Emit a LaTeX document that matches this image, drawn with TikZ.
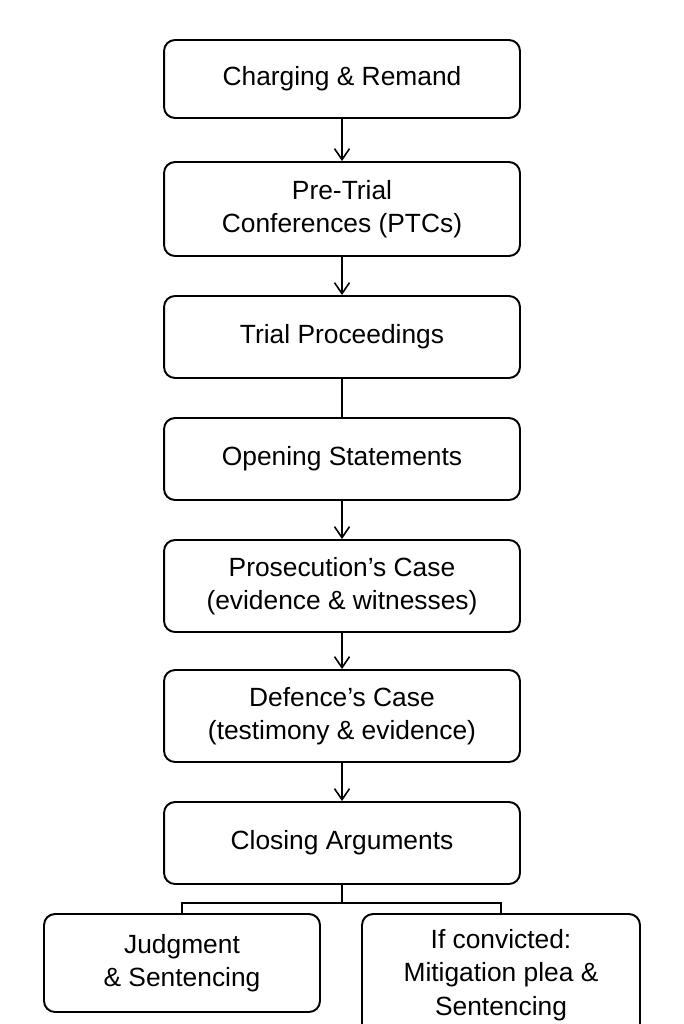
\documentclass[tikz,border=0pt]{standalone}
\usepackage{fontspec}
\setmainfont{Liberation Sans}
\usetikzlibrary{arrows.meta,positioning}

\begin{document}
\begin{tikzpicture}
  [x=0.02cm,y=-0.02cm,>={Straight Barb[length=2.2mm,width=3mm]},
  stage/.style={draw,line width=1.1pt,rounded corners=2.2mm,minimum width=7.12cm,
    align=center,font=\fontsize{15}{19}\selectfont,inner sep=0pt},
  flow/.style={->,line width=0.9pt},
  link/.style={line width=0.9pt}]
  \useasboundingbox (0,0) rectangle (683,1024);
  \node [stage,minimum height=1.56cm] (charge) at (342,79) {Charging \& Remand};
  \node [stage,minimum height=1.88cm] (ptc) at (342,209) {Pre-Trial\\Conferences (PTCs)};
  \node [stage,minimum height=1.64cm] (trial) at (342,337) {Trial Proceedings};
  \node [stage,minimum height=1.64cm] (open) at (342,459) {Opening Statements};
  \node [stage,minimum height=1.84cm] (pros) at (342,586) {Prosecution’s Case\\(evidence \& witnesses)};
  \node [stage,minimum height=1.84cm] (def) at (342,716) {Defence’s Case\\(testimony \& evidence)};
  \node [stage,minimum height=1.64cm] (close) at (342,843) {Closing Arguments};
  \node [stage,minimum width=5.52cm,minimum height=1.96cm] (judge) at (182,963) {Judgment\\\& Sentencing};
  \node [stage,minimum width=5.56cm,minimum height=2.44cm] (mitig) at (501,975) {If convicted:\\Mitigation plea \&\\Sentencing};
  \coordinate (fork) at (342,903);

  \draw [flow] (charge) -- (ptc);
  \draw [flow] (ptc) -- (trial);
  \draw [link] (trial) -- (open);
  \draw [flow] (open) -- (pros);
  \draw [flow] (pros) -- (def);
  \draw [flow] (def) -- (close);
  \draw [link] (close) -- (fork);
  \draw [link] (judge.north) |- (fork) -| (mitig.north);
\end{tikzpicture}
\end{document}
